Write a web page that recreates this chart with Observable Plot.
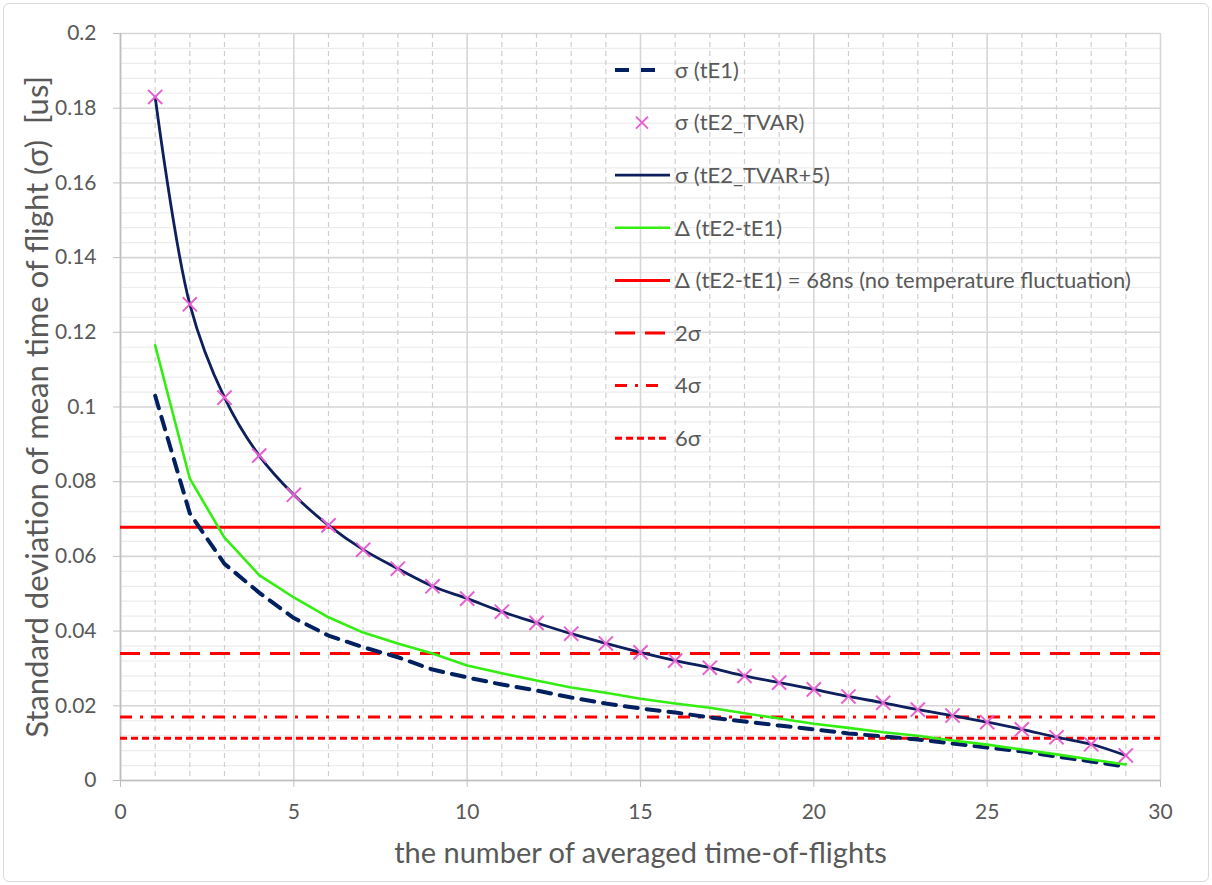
<!DOCTYPE html>
<html><head><meta charset="utf-8">
<script src="https://cdn.jsdelivr.net/npm/d3@7"></script>
<script src="https://cdn.jsdelivr.net/npm/@observablehq/plot@0.6"></script>
<style>
body{margin:0;background:#fff;}
#wrap{position:relative;width:1212px;height:885px;overflow:hidden;background:#fff;}
#frame{position:absolute;left:3px;top:3px;width:1204px;height:877px;border:1px solid #d9d9d9;border-radius:6px;pointer-events:none;}
#legend{position:absolute;left:0;top:0;pointer-events:none;}
</style></head><body><div id="wrap"></div>
<script>
// ---- data ----
const nAveraged = [1,2,3,4,5,6,7,8,9,10,11,12,13,14,15,16,17,18,19,20,21,22,23,24,25,26,27,28,29];
const sigmaTE1 = [0.103,0.0715,0.058,0.0503,0.0435,0.0388,0.0357,0.033,0.0297,0.0276,0.0257,0.0241,0.0222,0.0206,0.0193,0.0182,0.0169,0.0158,0.0147,0.0137,0.0126,0.0118,0.011,0.0099,0.0088,0.0078,0.0064,0.0051,0.0037];
const sigmaTE2TVAR = [0.183,0.1275,0.1025,0.087,0.0765,0.0683,0.0618,0.0567,0.052,0.0487,0.0452,0.0422,0.0393,0.0367,0.0343,0.0321,0.0302,0.028,0.0262,0.0244,0.0225,0.0208,0.019,0.0174,0.0156,0.0137,0.0116,0.0097,0.0067];
const sigmaTE2TVAR5 = [0.183,0.1275,0.1025,0.087,0.0765,0.0683,0.0618,0.0567,0.052,0.0487,0.0452,0.0422,0.0393,0.0367,0.0343,0.0321,0.0302,0.028,0.0262,0.0244,0.0225,0.0208,0.019,0.0174,0.0156,0.0137,0.0116,0.0097,0.0067];
const deltaTE2TE1 = [0.1165,0.0808,0.065,0.055,0.049,0.0437,0.0396,0.0367,0.034,0.0308,0.0287,0.0268,0.0249,0.0235,0.0219,0.0206,0.0195,0.018,0.0166,0.0152,0.0141,0.0129,0.012,0.0107,0.0096,0.0083,0.007,0.0056,0.0043];
const delta68ns = [0.0678];
const level2sigma = [0.034];
const level4sigma = [0.017];
const level6sigma = [0.0113];
const xTickValues = [0,5,10,15,20,25,30];
const yTickValues = [0,0.02,0.04,0.06,0.08,0.1,0.12,0.14,0.16,0.18,0.2];
const legendLabels = ["σ (tE1)","σ (tE2_TVAR)","σ (tE2_TVAR+5)","Δ (tE2-tE1)","Δ (tE2-tE1) = 68ns (no temperature fluctuation)","2σ","4σ","6σ"];
const xTitle = "the number of averaged time-of-flights";
const yTitle = "Standard deviation of mean time of flight (σ)  [us]";

// ---- table ----
const rows = nAveraged.map((n,i)=>({n, tE1:sigmaTE1[i], tvar:sigmaTE2TVAR[i], tvar5:sigmaTE2TVAR5[i], delta:deltaTE2TE1[i]}));

const xMinor = d3.range(1,30).filter(v=>v%5!==0);
const yMinor = d3.range(0,201,4).map(v=>v/1000).filter(v=>Math.round(v*1000)%20!==0);

const NAVY = "#0d1f5c", NAVYD="#002060", PINK="#e660d2", GREEN="#33ee11", RED="#ff0000";
const TXT = "#595959";

const chart = Plot.plot({
  width:1212, height:885,
  marginLeft:120, marginRight:52, marginTop:33, marginBottom:105,
  x:{domain:[0,30]},
  y:{domain:[0,0.2]},
  style:{fontFamily:"Lato", fontSize:"21px", color:TXT, background:"transparent", overflow:"visible"},
  marks:[
    Plot.ruleY(yMinor,{stroke:"#ececec",strokeWidth:1.2}),
    Plot.ruleX(xMinor,{stroke:"#cfcfcf",strokeWidth:1.2,strokeDasharray:"5,4"}),
    Plot.ruleY(yTickValues,{stroke:"#d6d6d6",strokeWidth:1.6}),
    Plot.ruleX(xTickValues,{stroke:"#d6d6d6",strokeWidth:1.6}),
    Plot.ruleX([0],{stroke:"#bfbfbf",strokeWidth:1.6}),
    Plot.ruleY([0],{stroke:"#bfbfbf",strokeWidth:1.6}),
    Plot.axisY({ticks:yTickValues, tickFormat:d=>String(+d.toFixed(2)), tickSize:7, tickPadding:17, stroke:"#bfbfbf", label:null, fontSize:21, fill:TXT, fontFamily:"Lato"}),
    Plot.axisX({ticks:xTickValues, tickFormat:d=>String(d), tickSize:7, tickPadding:17, stroke:"#bfbfbf", label:null, fontSize:21, fill:TXT, fontFamily:"Lato"}),
    Plot.ruleY(delta68ns,{stroke:RED,strokeWidth:3}),
    Plot.ruleY(level2sigma,{stroke:RED,strokeWidth:3,strokeDasharray:"20,10"}),
    Plot.ruleY(level4sigma,{stroke:RED,strokeWidth:3,strokeDasharray:"12,8,3,8"}),
    Plot.ruleY(level6sigma,{stroke:RED,strokeWidth:3,strokeDasharray:"7,4"}),
    Plot.line(rows,{x:"n",y:"tE1",stroke:NAVYD,strokeWidth:4,strokeDasharray:"13,9"}),
    Plot.line(rows,{x:"n",y:"delta",stroke:GREEN,strokeWidth:2.6}),
    Plot.line(rows,{x:"n",y:"tvar5",stroke:NAVY,strokeWidth:2.8,curve:"catmull-rom"}),
    Plot.dot(rows,{x:"n",y:"tvar",symbol:"times",r:6.5,stroke:PINK,strokeWidth:2}),
    Plot.text([yTitle],{frameAnchor:"left",textAnchor:"middle",dx:-82,rotate:-90,fontSize:31,fill:TXT,fontFamily:"Lato"}),
    Plot.text([xTitle],{frameAnchor:"bottom",textAnchor:"middle",dy:82,fontSize:29,fill:TXT,fontFamily:"Lato"})
  ]
});

const wrap = document.getElementById("wrap");
wrap.appendChild(chart);

// ---- legend overlay ----
const styles = [
  {stroke:NAVYD,w:4,dash:"14,12",type:"line",x2:660},
  {type:"marker"},
  {stroke:NAVY,w:2.8,dash:null,type:"line"},
  {stroke:GREEN,w:2.6,dash:null,type:"line"},
  {stroke:RED,w:3,dash:null,type:"line"},
  {stroke:RED,w:3,dash:"20,10",type:"line"},
  {stroke:RED,w:3,dash:"12,8,3,8",type:"line",x2:660},
  {stroke:RED,w:3,dash:"7,4",type:"line"}
];
const lg = d3.select(wrap).append("svg").attr("id","legend").attr("width",1212).attr("height",885);
legendLabels.forEach((lab,i)=>{
  const y = 70 + i*52.6;
  const s = styles[i];
  if (s.type==="marker") {
    const cx=642, r=6;
    lg.append("path").attr("d",`M${cx-r},${y-r}L${cx+r},${y+r}M${cx-r},${y+r}L${cx+r},${y-r}`).attr("stroke",PINK).attr("stroke-width",2).attr("fill","none");
  } else {
    lg.append("line").attr("x1",615).attr("x2",s.x2||670).attr("y1",y).attr("y2",y)
      .attr("stroke",s.stroke).attr("stroke-width",s.w).attr("stroke-dasharray",s.dash);
  }
  lg.append("text").attr("x",675).attr("y",y).attr("dy","0.35em").attr("fill",TXT)
    .attr("font-family","Lato").attr("font-size",22).text(lab);
});
d3.select(wrap).append("div").attr("id","frame");
</script></body></html>
